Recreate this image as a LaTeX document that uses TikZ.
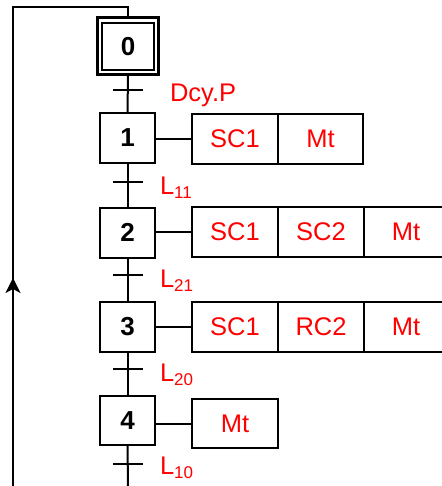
\documentclass[tikz,border=0pt]{standalone}
\usepackage{fontspec}
\setmainfont{Liberation Sans}
\usetikzlibrary{arrows.meta}
\newcommand{\subl}[1]{\raisebox{-4pt}{\fontsize{17}{17}\selectfont #1}}
\begin{document}
\begin{tikzpicture}[x=1pt,y=-1pt,line width=2pt,
  stepbox/.style={draw, minimum width=55pt, minimum height=50pt, inner sep=0pt, outer sep=0pt,
    font=\fontsize{26}{26}\selectfont\bfseries},
  act/.style={draw, minimum width=86pt, minimum height=50pt, inner sep=0pt, outer sep=0pt,
    text=red, font=\fontsize{25.5}{25.5}\selectfont, anchor=west},
  lbl/.style={text=red, anchor=base west, inner sep=0pt, font=\fontsize{25.5}{25.5}\selectfont},
  cross/.style={line width=2pt}]
\useasboundingbox (0,0) rectangle (441,486);
% steps
\node[draw, line width=3pt, minimum width=61pt, minimum height=57pt, inner sep=0pt, outer sep=0pt] (s0o) at (128,46) {};
\node[stepbox, minimum width=52pt, minimum height=47pt] (s0) at (128,46.5) {0};
\node[stepbox] (s1) at (127.5,138) {1};
\node[stepbox] (s2) at (127.5,232.5) {2};
\node[stepbox] (s3) at (127.5,327) {3};
\node[stepbox, minimum height=49pt] (s4) at (127.5,420.5) {4};
% actions
\node[act] (a1a) at (192,139) {SC1};
\node[act, minimum width=85pt] (a1b) at (a1a.east) {Mt};
\node[act] (a2a) at (192,232) {SC1};
\node[act] (a2b) at (a2a.east) {SC2};
\node[act, minimum width=84pt] (a2c) at (a2b.east) {Mt};
\node[act] (a3a) at (192,327) {SC1};
\node[act] (a3b) at (a3a.east) {RC2};
\node[act, minimum width=84pt] (a3c) at (a3b.east) {Mt};
\node[act, minimum height=49pt] (a4a) at (192,423.5) {Mt};
% connectors step-action
\draw (s1.east |- a1a.west) -- (a1a.west);
\draw (s2.east |- a2a.west) -- (a2a.west);
\draw (s3.east |- a3a.west) -- (a3a.west);
\draw (s4.east |- a4a.west) -- (a4a.west);
% main vertical line
\coordinate (bot) at (128,486);
\draw (s0o.south) -- (s1.north);
\draw (s1.south) -- (s2.north);
\draw (s2.south) -- (s3.north);
\draw (s3.south) -- (s4.north);
\draw (s4.south) -- (bot);
% transitions
\coordinate (t0) at (128,90);
\coordinate (t1) at (128,182);
\coordinate (t2) at (128,275);
\coordinate (t3) at (128,369);
\coordinate (t4) at (128,464);
\foreach \t in {t0,t1,t2,t3,t4} {\draw[cross] (\t) +(-15,0) -- +(15,0);}
\node[lbl] (l0) at (169,102) {Dcy.P};
\node[lbl] (l1) at (159,194) {L\subl{11}};
\node[lbl] (l2) at (159,287) {L\subl{21}};
\node[lbl] (l3) at (159,381) {L\subl{20}};
\node[lbl] (l4) at (159,474) {L\subl{10}};
% loop back
\coordinate (lt) at (13,7);
\coordinate (lbot) at (13,486);
\coordinate (ar0) at (13,300);
\coordinate (ar1) at (13,278);
\draw (s0o.north) |- (lt) -- (lbot);
\draw[-{Stealth[length=15pt,width=15pt,inset=4pt]}] (ar0) -- (ar1);
\end{tikzpicture}
\end{document}
